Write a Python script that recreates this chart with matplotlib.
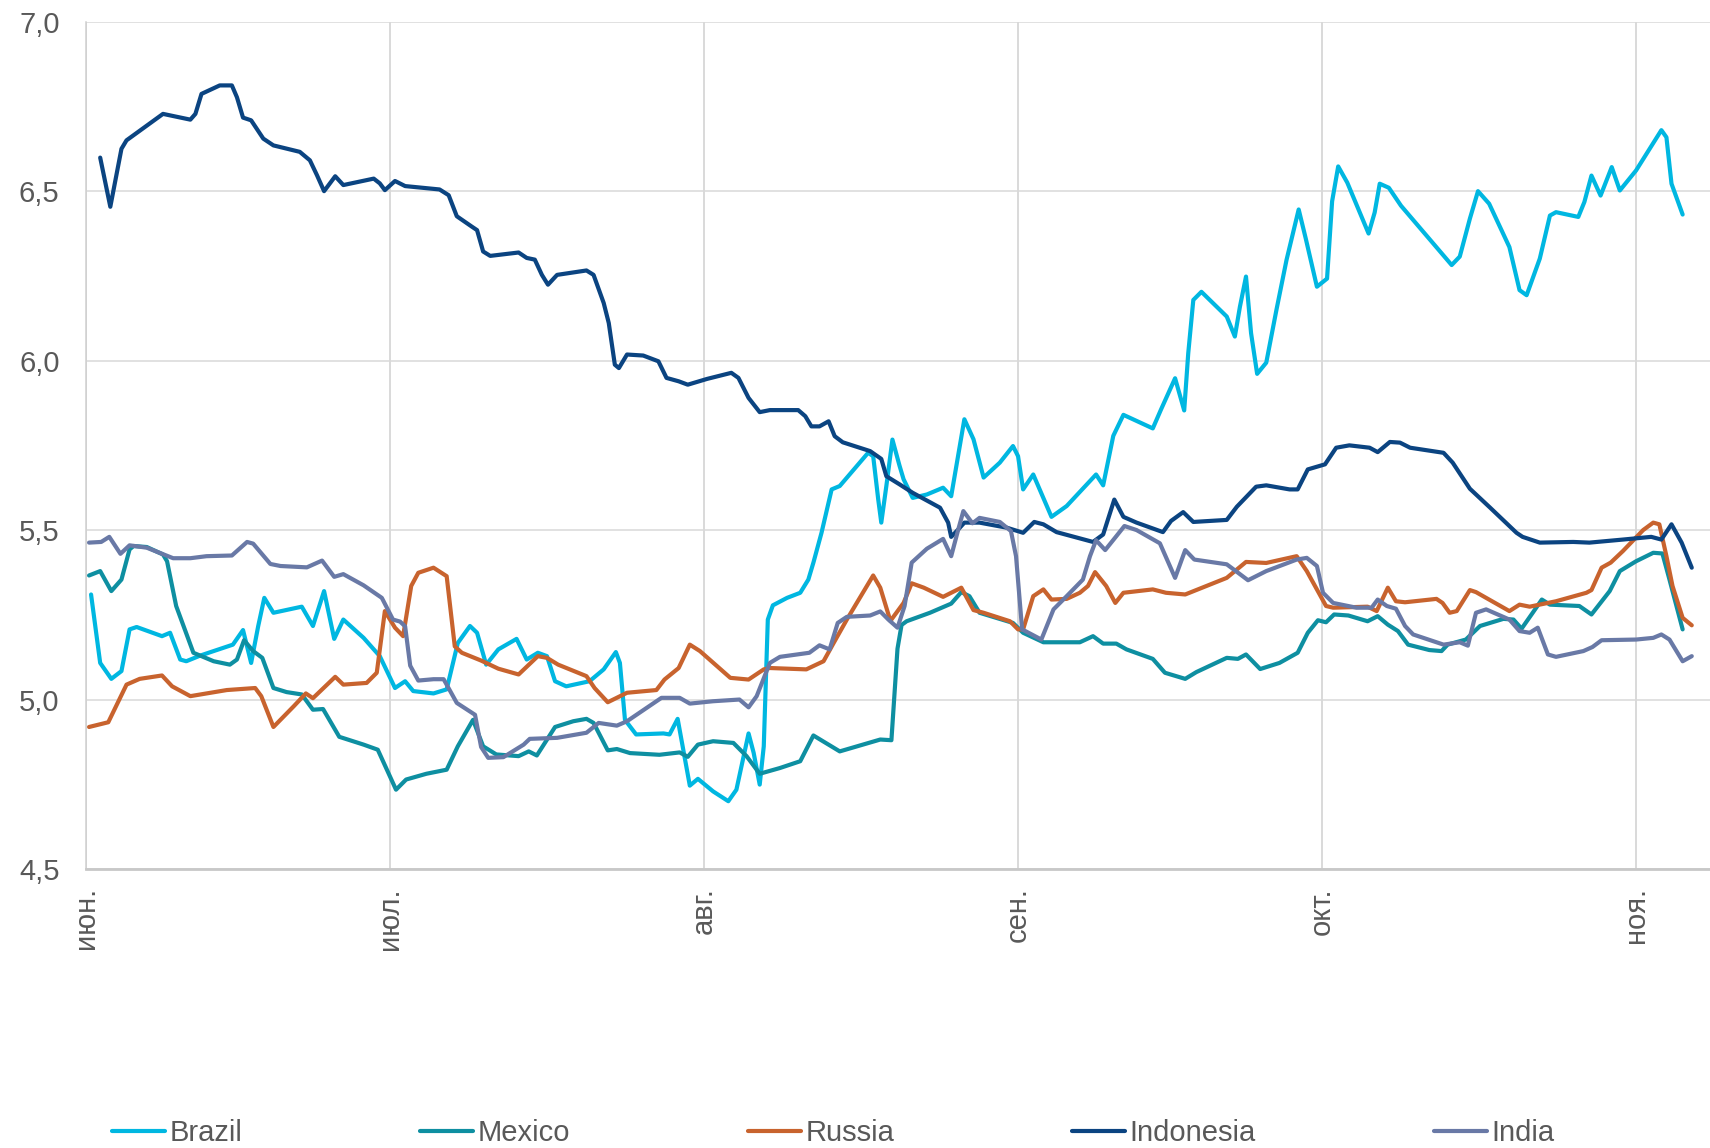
import matplotlib
matplotlib.use('Agg')
import matplotlib.pyplot as plt
import pandas as pd

plt.rcParams['font.family'] = ['Liberation Sans', 'DejaVu Sans']

# days counted from 1 June
start = pd.Timestamp('2020-06-01')
month_starts = pd.date_range('2020-06-01', '2020-11-01', freq='MS')
month_labels = ['июн.', 'июл.', 'авг.', 'сен.', 'окт.', 'ноя.']
y_ticks = [4.5, 5.0, 5.5, 6.0, 6.5, 7.0]

brazil_day = [0.5, 1.4, 2.5, 3.5, 4.3, 5, 7.5, 8.3, 9.3, 9.9, 11.3, 14.5, 15.5, 16.3, 17, 17.6, 18.5,
              21.3, 22.4, 23.5, 24.5, 25.4, 27.4, 29, 30.5, 31.5, 32.3, 34.3, 35.6, 36.7, 37.9, 38.6,
              39.5, 40.7, 42.5, 43.5, 44.6, 45.5, 46.3, 47.4, 49.7, 51.1, 52.3, 52.7, 53.2, 54.3, 57,
              57.6, 58.4, 59.6, 60.4, 61.9, 63.4, 64.2, 65.4, 65.9, 66.5, 66.9, 67.3, 67.8, 69.2, 70.5,
              71.3, 71.8, 72.6, 73.6, 74.4, 77.2, 77.7, 78.2, 78.5, 79, 79.6, 80.3, 80.7, 81.6, 83,
              84.6, 85.4, 86.7, 87.6, 88.6, 90.2, 91.5, 92, 92.5, 93.5, 95.3, 96.8, 99.7, 100.4, 101.4,
              102.4, 105.3, 106.1, 107.5, 108.4, 108.8, 109.3, 110.1, 112.6, 113.4, 113.9, 114.5, 115,
              115.6, 116.5, 117.5, 118.5, 119.7, 120.4, 121.5, 122.5, 123.0, 123.6, 124.5, 126.6,
              127.2, 127.7, 128.6, 129.8, 134.8, 135.6, 136.6, 137.4, 138.5, 140.5, 141.5, 142.2,
              143.5, 144.5, 145.1, 147.3, 147.9, 148.6, 149.5, 150.6, 151.4, 153, 155.5, 156, 156.5,
              157.6]
brazil_val = [5.31, 5.108, 5.061, 5.084, 5.207, 5.214, 5.187, 5.197, 5.118, 5.113, 5.13, 5.162, 5.205,
              5.108, 5.217, 5.30, 5.256, 5.274, 5.217, 5.32, 5.179, 5.236, 5.182, 5.128, 5.034, 5.054,
              5.025, 5.018, 5.03, 5.167, 5.217, 5.197, 5.103, 5.148, 5.179, 5.118, 5.138, 5.128, 5.054,
              5.039, 5.054, 5.089, 5.14, 5.108, 4.94, 4.897, 4.90, 4.897, 4.943, 4.746, 4.766, 4.729,
              4.70, 4.734, 4.90, 4.843, 4.749, 4.862, 5.236, 5.278, 5.30, 5.315, 5.354, 5.404, 5.492,
              5.62, 5.63, 5.728, 5.718, 5.59, 5.522, 5.63, 5.767, 5.69, 5.65, 5.595, 5.605, 5.625, 5.60,
              5.827, 5.768, 5.655, 5.699, 5.748, 5.718, 5.62, 5.664, 5.539, 5.571, 5.664, 5.632, 5.778,
              5.84, 5.80, 5.855, 5.948, 5.853, 6.022, 6.179, 6.203, 6.130, 6.071, 6.159, 6.248, 6.081,
              5.961, 5.994, 6.149, 6.297, 6.446, 6.36, 6.218, 6.242, 6.47, 6.573, 6.525, 6.375, 6.437,
              6.522, 6.51, 6.457, 6.282, 6.307, 6.419, 6.50, 6.463, 6.335, 6.208, 6.193, 6.301, 6.428,
              6.438, 6.424, 6.468, 6.546, 6.487, 6.571, 6.502, 6.561, 6.68, 6.659, 6.522, 6.431]

mexico_day = [0.3, 1.4, 2.5, 3.5, 4.3, 4.7, 6, 7.6, 8, 8.9, 10.6, 12.6, 14.2, 14.9, 15.6, 16.5, 17.4,
              18.5, 19.8, 21.3, 22.4, 23.4, 25, 27.4, 28.8, 29.7, 30.6, 31.6, 33.6, 35.6, 36.7, 38.2,
              39.2, 40.5, 42.7, 43.7, 44.5, 46.3, 48.1, 49.4, 50.1, 51.5, 52.4, 53.7, 56.6, 58.6, 59.4,
              60.4, 61.9, 63.9, 65.2, 66.5, 68.5, 70.5, 71.8, 74.4, 78.4, 79.5, 80.1, 80.5, 81, 83.3,
              85.4, 86.4, 87.2, 88.2, 91.5, 92.5, 94.5, 98.1, 99.4, 100.4, 101.7, 102.7, 105.3, 106.5,
              108.5, 109.6, 112.6, 113.7, 114.5, 115.9, 117.8, 119.6, 120.6, 121.6, 122.4, 123.2, 124.6,
              126.5, 127.5, 128.5, 129.5, 130.5, 132.6, 133.8, 134.4, 136.2, 137.6, 139.9, 140.9, 141.7,
              142.8, 143.7, 144.5, 147.4, 148.6, 150.4, 151.4, 153, 154.7, 155.6, 156.3, 157.6]
mexico_val = [5.366, 5.379, 5.32, 5.354, 5.443, 5.453, 5.45, 5.428, 5.408, 5.276, 5.138, 5.113, 5.103,
              5.118, 5.175, 5.143, 5.123, 5.034, 5.022, 5.015, 4.97, 4.972, 4.89, 4.867, 4.852, 4.793,
              4.734, 4.764, 4.781, 4.793, 4.862, 4.94, 4.862, 4.838, 4.833, 4.847, 4.835, 4.919, 4.936,
              4.943, 4.931, 4.85, 4.854, 4.842, 4.837, 4.844, 4.831, 4.867, 4.877, 4.872, 4.833, 4.781,
              4.798, 4.818, 4.894, 4.847, 4.882, 4.88, 5.15, 5.22, 5.231, 5.256, 5.283, 5.317, 5.305,
              5.256, 5.226, 5.197, 5.169, 5.169, 5.187, 5.165, 5.165, 5.148, 5.12, 5.079, 5.061, 5.081,
              5.123, 5.12, 5.133, 5.09, 5.108, 5.138, 5.197, 5.234, 5.228, 5.251, 5.248, 5.231, 5.246,
              5.221, 5.202, 5.162, 5.146, 5.143, 5.162, 5.177, 5.217, 5.238, 5.236, 5.209, 5.256, 5.295,
              5.28, 5.276, 5.251, 5.32, 5.379, 5.408, 5.433, 5.431, 5.354, 5.207]

russia_day = [0.3, 2.2, 4, 5.3, 7.5, 8.5, 10.3, 13.9, 16.7, 17.3, 18.5, 20.5, 21.7, 22.4, 24.6, 25.4,
              27.7, 28.7, 29.5, 30.5, 31.3, 32.1, 32.8, 34.3, 35.6, 36.4, 37.1, 39, 40.7, 42.7, 44.6,
              45.5, 46.6, 49.4, 50.2, 51.5, 53.4, 56.3, 57.1, 58.5, 59.6, 60.6, 63.6, 65.4, 66.9, 67.5,
              71.1, 72.8, 73.8, 75.1, 77.7, 78.4, 79.4, 80.7, 81.5, 82.7, 84.6, 86.4, 87.6, 88.6, 91.2,
              92, 92.5, 93.5, 94.5, 95.3, 96.8, 98.1, 98.9, 99.6, 100.7, 101.6, 102.4, 105.3, 106.6,
              108.5, 112.6, 114.5, 116.5, 119.5, 120.5, 122.4, 123.1, 126.5, 127.4, 128.5, 129.3, 130.2,
              133.3, 133.9, 134.6, 135.3, 136.6, 137.2, 140.5, 141.5, 142.5, 145.1, 148.1, 148.6, 149.6,
              150.5, 151.7, 153.7, 154.7, 155.3, 156, 156.6, 157.6, 158.5]
russia_val = [4.919, 4.933, 5.044, 5.061, 5.071, 5.039, 5.01, 5.028, 5.034, 5.01, 4.919, 4.98, 5.018,
              5.004, 5.067, 5.044, 5.049, 5.079, 5.261, 5.212, 5.187, 5.335, 5.374, 5.389, 5.364, 5.157,
              5.138, 5.115, 5.091, 5.074, 5.128, 5.123, 5.103, 5.069, 5.034, 4.992, 5.02, 5.028, 5.059,
              5.093, 5.162, 5.143, 5.064, 5.059, 5.089, 5.093, 5.089, 5.113, 5.167, 5.236, 5.366, 5.33,
              5.232, 5.285, 5.343, 5.33, 5.303, 5.33, 5.264, 5.256, 5.231, 5.207, 5.207, 5.305, 5.325,
              5.295, 5.297, 5.315, 5.335, 5.376, 5.335, 5.285, 5.315, 5.325, 5.315, 5.31, 5.359, 5.406,
              5.403, 5.423, 5.379, 5.276, 5.271, 5.274, 5.261, 5.33, 5.29, 5.287, 5.297, 5.285, 5.256,
              5.261, 5.323, 5.317, 5.261, 5.28, 5.274, 5.29, 5.315, 5.323, 5.389, 5.404, 5.438, 5.5,
              5.522, 5.517, 5.423, 5.335, 5.241, 5.219]

indonesia_day = [1.4, 2.4, 3.5, 4, 7.6, 10.3, 10.8, 11.4, 13.2, 14.4, 14.9, 15.5, 16.3, 17.5, 18.5, 21.1,
                 22.1, 22.8, 23.5, 24.6, 25.4, 28.4, 29, 29.5, 30.5, 31.5, 34.9, 35.8, 36.6, 38.1, 38.6,
                 39.2, 39.9, 42.7, 43.5, 44.3, 45, 45.6, 46.5, 49.4, 50.1, 51.1, 51.6, 52.2, 52.6, 53.4,
                 55, 56.5, 57.3, 58.5, 59.4, 61.3, 63.7, 64.4, 65.4, 66.5, 67.5, 70.3, 71, 71.6, 72.4,
                 73.3, 73.9, 74.7, 77.4, 78.5, 79, 80.3, 81.6, 84.3, 85.1, 85.4, 86.1, 86.7, 88.2, 90.9,
                 92.5, 93.6, 94.5, 95.8, 99.4, 100.4, 101.5, 102.4, 103.7, 106.3, 107.1, 108.3, 109.3,
                 112.6, 113.6, 115.5, 116.5, 118.8, 119.6, 120.6, 122.3, 123.4, 124.7, 126.7, 127.5,
                 128.7, 129.7, 130.7, 134, 134.9, 136.6, 138.6, 141.2, 141.8, 143.5, 146.8, 148.4, 151.7,
                 154.5, 155.5, 156.5, 157.5, 158.5]
indonesia_val = [6.599, 6.454, 6.625, 6.65, 6.728, 6.711, 6.728, 6.787, 6.812, 6.812, 6.777, 6.717,
                 6.709, 6.655, 6.635, 6.616, 6.591, 6.547, 6.50, 6.544, 6.518, 6.537, 6.523, 6.503,
                 6.530, 6.515, 6.505, 6.488, 6.426, 6.395, 6.385, 6.322, 6.309, 6.319, 6.303, 6.298,
                 6.253, 6.224, 6.253, 6.266, 6.253, 6.17, 6.111, 5.988, 5.978, 6.018, 6.015, 5.998,
                 5.949, 5.939, 5.929, 5.946, 5.964, 5.949, 5.89, 5.848, 5.854, 5.854, 5.836, 5.806,
                 5.806, 5.821, 5.777, 5.759, 5.733, 5.71, 5.659, 5.635, 5.61, 5.566, 5.522, 5.48, 5.502,
                 5.522, 5.522, 5.507, 5.492, 5.524, 5.517, 5.494, 5.465, 5.487, 5.59, 5.539, 5.522,
                 5.494, 5.527, 5.553, 5.524, 5.53, 5.569, 5.628, 5.632, 5.62, 5.62, 5.679, 5.694, 5.743,
                 5.75, 5.743, 5.73, 5.76, 5.758, 5.743, 5.728, 5.699, 5.622, 5.566, 5.492, 5.48, 5.463,
                 5.465, 5.463, 5.472, 5.48, 5.472, 5.517, 5.463, 5.389]

india_day = [0.3, 1.5, 2.3, 3.4, 4.3, 6, 8.6, 10.3, 11.9, 14.4, 15.9, 16.5, 18.2, 19.2, 21.8, 23.3,
             24.5, 25.4, 27.4, 29.2, 30.3, 31, 31.5, 32, 32.8, 34.3, 35.3, 36.6, 38.4, 39, 39.7, 41.2,
             43.2, 43.8, 46.5, 49.4, 50.6, 52.4, 53.4, 56.8, 58.6, 59.6, 61.9, 64.5, 65.4, 66.2, 67.5,
             68.5, 71.4, 72.4, 73.4, 74.2, 75.1, 77.4, 78.4, 79.2, 80.1, 80.8, 81.5, 83, 84.6, 85.4,
             86.1, 86.6, 87.5, 88.2, 90.2, 91.3, 91.8, 92.4, 94.3, 95.5, 96.8, 98.4, 99.1, 99.7, 100.6,
             101.7, 102.5, 103.7, 106, 107.5, 108.5, 109.4, 112.6, 113.5, 114.7, 116.5, 119.5, 120.5,
             121.5, 122.1, 123.1, 125.4, 126.9, 127.5, 128.4, 129.3, 130.2, 131, 134, 135.6, 136.4,
             137.2, 138.2, 140.5, 141.5, 142.5, 143.3, 144.3, 145.1, 147.8, 148.7, 149.6, 153, 154.7,
             155.5, 156.3, 157.6, 158.5]
india_val = [5.463, 5.465, 5.48, 5.43, 5.455, 5.448, 5.417, 5.417, 5.423, 5.425, 5.465, 5.46, 5.40,
             5.394, 5.39, 5.41, 5.362, 5.37, 5.337, 5.30, 5.236, 5.23, 5.216, 5.10, 5.056, 5.06, 5.06,
             4.99, 4.955, 4.86, 4.828, 4.83, 4.867, 4.884, 4.887, 4.902, 4.931, 4.923, 4.936, 5.005,
             5.005, 4.988, 4.995, 5.0, 4.977, 5.01, 5.108, 5.126, 5.138, 5.16, 5.148, 5.226, 5.244,
             5.248, 5.26, 5.236, 5.212, 5.276, 5.404, 5.445, 5.474, 5.423, 5.502, 5.556, 5.52, 5.536,
             5.524, 5.497, 5.423, 5.207, 5.177, 5.266, 5.305, 5.354, 5.423, 5.47, 5.441, 5.482, 5.512,
             5.50, 5.461, 5.359, 5.441, 5.413, 5.399, 5.379, 5.352, 5.379, 5.413, 5.418, 5.394, 5.315,
             5.285, 5.271, 5.271, 5.295, 5.276, 5.268, 5.217, 5.192, 5.162, 5.169, 5.159, 5.256, 5.266,
             5.236, 5.202, 5.197, 5.212, 5.133, 5.126, 5.143, 5.155, 5.175, 5.177, 5.182, 5.192,
             5.177, 5.113, 5.128]

series = [
    ('Brazil', brazil_day, brazil_val, '#00b7e1'),
    ('Mexico', mexico_day, mexico_val, '#0e8fa1'),
    ('Russia', russia_day, russia_val, '#c8632e'),
    ('Indonesia', indonesia_day, indonesia_val, '#0b4481'),
    ('India', india_day, india_val, '#6979a6'),
]

W, H = 1710, 1148
fig = plt.figure(figsize=(W / 100, H / 100), dpi=100)
ax = fig.add_axes([86 / W, 1 - 869 / H, 1 - 86 / W, (869 - 21.7) / H])

for name, d, v, c in series:
    ax.plot(d, v, color=c, lw=3.0, label=name, solid_joinstyle='round',
            solid_capstyle='round', zorder=3)

ax.set_xlim(0, 160.3)
ax.set_ylim(4.5, 7.0)

tick_pos = list((month_starts - start).days)
ax.set_xticks(tick_pos)
ax.set_xticklabels(month_labels, rotation=90, ha='center', va='top')
ax.set_yticks(y_ticks)
ax.set_yticklabels([f'{t:.1f}'.replace('.', ',') for t in y_ticks])

ax.tick_params(axis='both', length=0, labelsize=21, colors='#595959')
ax.tick_params(axis='y', pad=19)
ax.tick_params(axis='x', pad=13)

ax.grid(axis='y', color='#d9d9d9', lw=1.1, zorder=0)
ax.grid(axis='x', color='#cfcfcf', lw=1.1, zorder=0)
for s in ['top', 'right']:
    ax.spines[s].set_visible(False)
ax.spines['left'].set_color('#cfcfcf')
ax.spines['left'].set_linewidth(1.1)
ax.spines['bottom'].set_color('#c8c8c8')
ax.spines['bottom'].set_linewidth(2.0)

fig.legend(loc='center left', bbox_to_anchor=(112 / W, 15 / H), ncol=5, frameon=False,
           fontsize=21, labelcolor='#595959', handlelength=1.8, handletextpad=0.17,
           columnspacing=6.1, borderpad=0, borderaxespad=0)

fig.savefig('out.png', dpi=100)
